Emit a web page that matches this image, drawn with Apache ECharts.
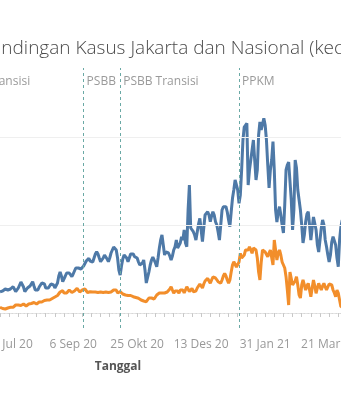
<!DOCTYPE html>
<html>
<head>
<meta charset="utf-8">
<script src="https://cdn.jsdelivr.net/npm/echarts@6/dist/echarts.min.js"></script>
<style>html,body{margin:0;padding:0;background:#fff}#c{width:341px;height:400px}</style>
</head>
<body>
<div id="c"></div>
<script>
// Daily new cases from 12 Jul 2020 to 31 Mar 2021
var dataStart = '2020-07-12';
var nasional = [1598,1575,1650,1725,1800,1838,1725,1725,1800,1950,1973,1800,1598,1575,1875,2100,2325,2325,1950,1598,
1725,1875,1950,2025,2175,2348,2025,1725,1598,1725,1950,2100,2250,2325,2175,1875,1725,1875,2025,2175,
2228,2100,1875,1725,2250,2775,3075,2775,2348,2475,2775,3000,3098,3000,2850,2723,2925,3150,3375,3473,
3375,3225,3300,3450,3525,3675,3900,4050,4103,3900,3750,3825,4125,4425,4598,4425,4125,3848,3975,4125,
4350,4275,4050,3848,4125,4500,4725,4950,5100,4725,4125,3225,2850,3525,4050,4350,4275,4125,3848,4125,
4425,4500,4425,4223,4200,4125,3825,3600,3473,3750,3975,3225,2250,2100,3075,3600,3975,4200,4125,3750,
3473,4125,4875,5475,5850,5100,4350,4575,4725,4500,4275,3975,4275,4725,4973,5475,4875,4725,5250,5723,
5475,6225,5250,4973,7725,9600,6375,6225,6098,5850,5475,6075,6675,7103,6225,5348,6375,7350,7500,7598,
7350,6848,7275,7598,7350,6848,6600,6075,5475,6600,7725,7973,8025,7973,7575,6975,6473,7575,8603,9225,
9975,10103,9225,8228,8850,10725,12975,13950,14100,14228,9600,10725,11475,12225,12975,11475,9975,10725,13350,14325,
13725,13875,14603,14100,12975,11100,9375,10725,11475,12848,10725,7725,6825,7575,7973,7350,6600,6000,8100,10725,
11100,11325,11475,8475,6225,7725,11475,10875,9225,8475,7725,6600,5250,5850,6825,7425,7598,6600,5475,6375,
7200,7223,6225,5100,4575,5475,6375,6975,6600,5475,4973,4350,3825,4350,5325,5723,5625,5100,4125,3473,
5475,6473,6975];
var jakarta = [428,375,338,300,300,338,375,413,428,413,428,525,600,675,600,525,563,638,675,638,
525,600,675,750,713,773,788,675,675,750,825,848,825,900,938,975,975,1013,975,1050,
1088,1125,1200,1223,1313,1425,1575,1613,1673,1500,1350,1500,1650,1725,1650,1538,1478,1650,1800,1853,
1725,1575,1478,1725,1875,1800,1650,1538,1500,1598,1650,1575,1478,1575,1598,1538,1478,1575,1598,1538,
1500,1575,1598,1538,1500,1575,1650,1725,1778,1725,1500,1575,1598,1500,1425,1350,1350,1350,1313,1275,
1313,1275,1223,1200,1163,1125,1103,1050,975,938,900,848,848,975,1125,1223,1125,975,1050,1200,
1350,1275,1500,1598,1500,1350,1500,1650,1575,1478,1800,1973,1725,1478,1650,1725,1650,1478,1725,1875,
1725,1500,1725,1973,1800,1598,1725,1853,1598,1500,1650,1875,2025,2175,2025,1875,2175,2400,2550,2603,
2400,2228,2475,2700,2723,2625,2475,2348,2250,2228,2475,2775,2978,2775,2475,2228,2475,3075,3600,3848,
3750,3450,3375,3825,4478,4125,3975,4350,4725,4575,4725,4973,4725,4478,4875,4973,4725,4125,3075,2475,
3825,4725,4725,4575,4425,4223,4500,4725,4875,3600,5475,4725,3975,4500,4725,4350,3825,3728,3375,2723,
1725,600,3075,3225,2100,1973,2400,2723,2100,1350,1125,2100,2475,2100,1725,2025,2228,1725,1223,1875,
2475,2025,1478,1875,2228,1950,1725,2025,2228,1950,1725,1950,2175,2228,2100,1725,1500,1223,1725,1500,
975,473,473];
var axisStart = '2020-06-05';
var axisEnd = '2021-03-31';
var refDates = ['2020-06-05', '2020-09-14', '2020-10-12', '2021-01-11'];
var refLabels = ['PSBB Transisi', 'PSBB', 'PSBB Transisi', 'PPKM'];
var gridValues = [6600, 13200];
var zeroValue = 0;
var firstTickDate = '2020-09-06';
var monthNames = ['Jan','Feb','Mar','Apr','Mei','Jun','Jul','Agu','Sep','Okt','Nov','Des'];
var titleText = 'Perbandingan Kasus Jakarta dan Nasional (kecepatan)';
var xTitle = 'Tanggal';

function iso(d){ return d.toISOString().slice(0,10); }
var dates = [];
for (var t = new Date(axisStart + 'T00:00:00Z'); iso(t) <= axisEnd; t = new Date(t.getTime() + 86400000)) dates.push(iso(t));
var off = dates.indexOf(dataStart);
var anchor = dates.indexOf(firstTickDate);
function pad(arr){ return dates.map(function(d, i){ var k = i - off; return (k >= 0 && k < arr.length) ? arr[k] : null; }); }
function fmt(s){ var p = s.split('-'); return (+p[2]) + ' ' + monthNames[+p[1]-1] + ' ' + p[0].slice(2); }

var chart = echarts.init(document.getElementById('c'));
var refColor = '#6aa9a5';
chart.setOption({
  animation: false,
  textStyle: { fontFamily: 'Open Sans' },
  grid: { left: -48.3, right: -1.2, top: 68, bottom: 72, containLabel: false, outerBoundsMode: 'none' },
  graphic: [
    { type: 'text', x: -49, y: 49, style: { text: titleText, fill: '#4a4a4a', font: '300 19px "Open Sans"', textVerticalAlign: 'middle' } },
    { type: 'text', x: 118, y: 367, style: { text: xTitle, fill: '#555', font: 'bold 12px "Open Sans"', textAlign: 'center', textVerticalAlign: 'middle' } }
  ],
  xAxis: {
    type: 'category', data: dates, boundaryGap: false,
    axisLine: { show: true, lineStyle: { color: '#e4e4e4' } },
    axisTick: { show: true, length: 4, lineStyle: { color: '#c8c8c8' }, interval: function(i){ return ((i - anchor) % 7 + 7) % 7 === 0; } },
    axisLabel: { color: '#999', fontSize: 12, margin: 11, hideOverlap: false, interval: function(i){ return ((i - anchor) % 49 + 49) % 49 === 0; }, formatter: fmt },
    splitLine: { show: false }
  },
  yAxis: {
    type: 'value', min: -1125, max: 18375,
    axisLine: { show: false }, axisTick: { show: false }, axisLabel: { show: false }, splitLine: { show: false }
  },
  series: [
    {
      type: 'line', data: pad([]), silent: true, z: 1,
      markLine: {
        silent: true, symbol: 'none', animation: false,
        label: { show: false },
        data: gridValues.map(function(v){ return { yAxis: v, lineStyle: { color: '#efefef', width: 1, type: 'solid' } }; })
          .concat([{ yAxis: zeroValue, lineStyle: { color: '#d0d0d0', width: 1, type: [1, 3] } }])
      }
    },
    {
      name: 'Nasional', type: 'line', data: pad(nasional), showSymbol: false, symbol: 'none',
      lineStyle: { color: '#4e79a7', width: 3 }, itemStyle: { color: '#4e79a7' }, z: 3,
      markLine: {
        silent: true, symbol: 'none', animation: false,
        lineStyle: { color: refColor, width: 1, type: [3, 3] },
        label: { show: true, position: 'end', distance: -8, align: 'left', verticalAlign: 'top', padding: [0, 0, 0, 3], color: '#9a9a9a', fontSize: 12, fontFamily: 'Open Sans' },
        data: refDates.map(function(d, i){ return { xAxis: d, label: { formatter: refLabels[i] } }; })
      }
    },
    {
      name: 'Jakarta', type: 'line', data: pad(jakarta), showSymbol: false, symbol: 'none',
      lineStyle: { color: '#f28e2b', width: 3 }, itemStyle: { color: '#f28e2b' }, z: 4
    }
  ]
});
</script>
</body>
</html>
